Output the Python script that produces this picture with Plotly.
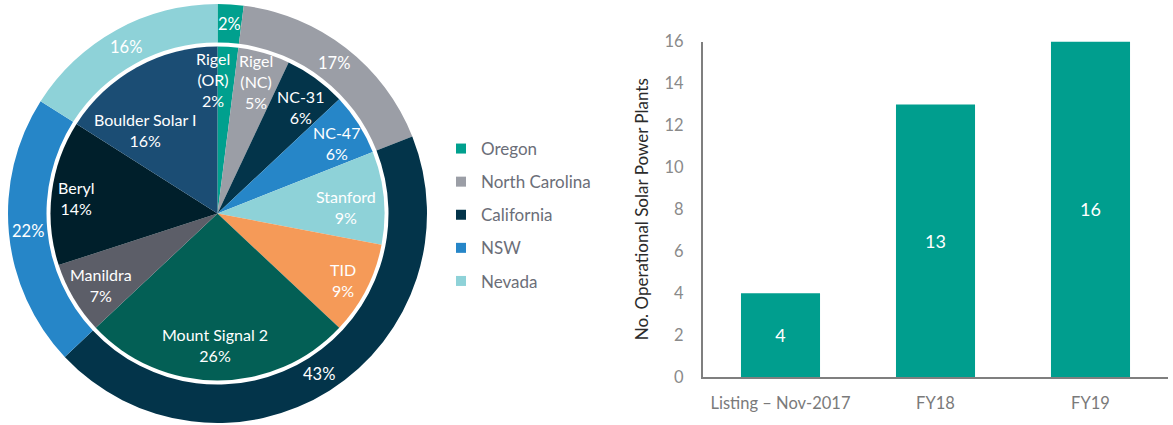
import math
import plotly.graph_objects as go

# ---------------- data ----------------
plant_labels = ["Rigel<br>(OR)", "Rigel<br>(NC)", "NC-31", "NC-47", "Stanford", "TID",
                "Mount Signal 2", "Manildra", "Beryl", "Boulder Solar I"]
plant_share = [2, 5, 6, 6, 9, 9, 26, 7, 14, 16]
plant_state = ["Oregon", "North Carolina", "North Carolina", "North Carolina", "California",
               "California", "California", "NSW", "NSW", "Nevada"]

states = ["Oregon", "North Carolina", "California", "NSW", "Nevada"]
state_labels_text = ["2%", "17%", "43%", "22%", "16%"]

bar_categories = ["Listing – Nov-2017", "FY18", "FY19"]
bar_values = [4, 13, 16]

# ---------------- style ----------------
plant_colors = ["#00a08e", "#9b9ea6", "#03344a", "#2686c8", "#8ed2d8", "#f59a58",
                "#035f55", "#5c5e68", "#001f2b", "#1b4d74"]
state_colors = ["#00a08e", "#9b9ea6", "#03344a", "#2686c8", "#8ed2d8"]
label_rf = [0.80, 0.82, 0.81, 0.826, 0.77, 0.85, 0.79, 0.82, 0.85, 0.66]
label_da = [-5.5, 0, 2, 1.7, 2.5, 1, 1, -1, -1, -12]

W, H = 1173, 425
CX, CY = 217.5, 213.5
R_OUT, R_HOLE, R_IN = 209.5, 171.0, 167.0
FONT = "Lato"

state_values = [sum(v for v, s in zip(plant_share, plant_state) if s == st) for st in states]


def dom(cx, cy, r):
    return dict(x=[(cx - r) / W, (cx + r) / W], y=[1 - (cy + r) / H, 1 - (cy - r) / H])


fig = go.Figure()

fig.add_trace(go.Pie(
    labels=states, values=state_values, sort=False, direction="clockwise", rotation=0,
    hole=R_HOLE / R_OUT, domain=dom(CX, CY, R_OUT), textinfo="none", showlegend=False,
    marker=dict(colors=state_colors, line=dict(width=0)),
))
fig.add_trace(go.Pie(
    labels=plant_labels, values=plant_share, sort=False, direction="clockwise", rotation=0,
    domain=dom(CX, CY, R_IN), textinfo="none", showlegend=False,
    marker=dict(colors=plant_colors, line=dict(width=0)),
))

annotations = []


def add_label(text, angle_deg, r, size):
    a = math.radians(angle_deg)
    xp = CX + r * math.sin(a)
    yp = CY - r * math.cos(a)
    annotations.append(dict(x=xp / W, y=1 - yp / H, xref="paper", yref="paper", text=text,
                            showarrow=False, xanchor="center", yanchor="middle",
                            font=dict(family=FONT, size=size, color="white")))


total = sum(plant_share)
cum = 0
for lab, v, rf, da in zip(plant_labels, plant_share, label_rf, label_da):
    mid = (cum + v / 2) / total * 360 + da
    add_label(f"{lab}<br>{v}%", mid, rf * R_IN, 16)
    cum += v

total_s = sum(state_values)
cum = 0
for txt, v in zip(state_labels_text, state_values):
    mid = (cum + v / 2) / total_s * 360
    add_label(txt, mid, (R_OUT + R_HOLE) / 2, 16.5)
    cum += v

# legend entries (one per state)
for st, col in zip(states, state_colors):
    fig.add_trace(go.Scatter(x=[None], y=[None], mode="markers", name=st, legendgroup=st,
                             marker=dict(symbol="square", size=10, color=col),
                             xaxis="x2", yaxis="y2"))

fig.add_trace(go.Bar(
    x=bar_categories, y=bar_values, marker=dict(color="#009e8e", line=dict(width=0)),
    text=[str(v) for v in bar_values], textposition="inside", insidetextanchor="middle",
    textfont=dict(family=FONT, size=18, color="white"), showlegend=False,
    xaxis="x", yaxis="y",
))

fig.update_layout(
    width=W, height=H, margin=dict(l=0, r=0, t=0, b=0, autoexpand=False),
    paper_bgcolor="white", plot_bgcolor="white",
    font=dict(family=FONT),
    bargap=0.49,
    showlegend=True,
    legend=dict(x=441 / W, y=1 - 131 / H, xanchor="left", yanchor="top",
                traceorder="grouped", tracegroupgap=8,
                font=dict(family=FONT, size=17, color="#6b6e78"),
                bgcolor="rgba(0,0,0,0)"),
    xaxis=dict(domain=[703 / W, 1168 / W], range=[-0.5, 2.5], showline=True,
               linecolor="#7f7f7f", linewidth=2, showgrid=False, zeroline=False,
               ticks="", ticklabelstandoff=10, automargin=False,
               tickfont=dict(family=FONT, size=16.5, color="#7a7a7a"), fixedrange=True),
    yaxis=dict(domain=[1 - 377 / H, 1 - 41.5 / H], range=[0, 16], dtick=2, showline=True,
               linecolor="#7f7f7f", linewidth=2, showgrid=False, zeroline=False,
               ticks="", ticklabelstandoff=14, automargin=False,
               tickfont=dict(family=FONT, size=16.5, color="#8a8a8a"),
               title=dict(text="No. Operational Solar Power Plants", standoff=12,
                          font=dict(family=FONT, size=17, color="#2b2b2b"))),
    xaxis2=dict(visible=False, domain=[0, 0.01], anchor="y2"),
    yaxis2=dict(visible=False, domain=[0, 0.01], anchor="x2"),
    annotations=annotations,
)

fig.write_html("out.html", config={"displayModeBar": False},
               post_script="document.body.style.margin='0';document.body.style.padding='0';")
